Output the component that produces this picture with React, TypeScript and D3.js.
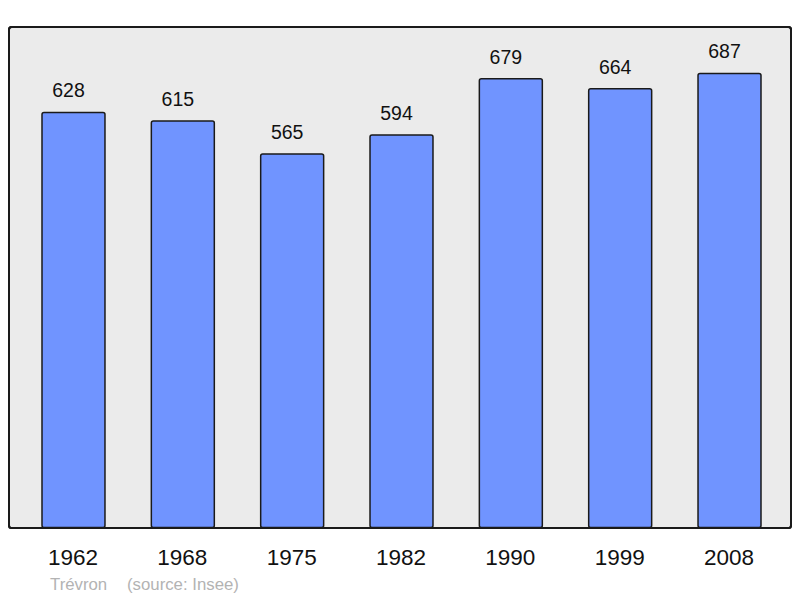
import React from "react";
import * as d3 from "d3";

const years = ["1962", "1968", "1975", "1982", "1990", "1999", "2008"];
const population = [628, 615, 565, 594, 679, 664, 687];
const townName = "Trévron";
const sourceText = "(source: Insee)";

const W = 800;
const H = 598;

export default function App() {
  const x = d3.scaleBand<string>().domain(years).range([9.2, 793.8]).paddingInner(0.424).paddingOuter(0.3);
  const y = d3.scaleLinear().domain([0, 758]).range([527.5, 26.5]);
  const font = "'Liberation Sans', Arial, sans-serif";
  return (
    <svg width={W} height={H} style={{ position: "absolute", left: 0, top: 0, display: "block" }}>
      <rect x={0} y={0} width={W} height={H} fill="#ffffff" />
      <rect x={9} y={27} width={782} height={501} rx={2.5} fill="#ebebeb" stroke="#1a1a1a" strokeWidth={2} />
      {years.map((yr, i) => {
        const bx = x(yr)!;
        const top = y(population[i]);
        return (
          <g key={yr}>
            <rect x={bx} y={top} width={x.bandwidth()} height={y(0) - top} rx={2} fill="#7094ff" stroke="#1a1a1a" strokeWidth={1.5} />
            <text x={bx + x.bandwidth() / 2 - 5} y={top - 15} textAnchor="middle" fontFamily={font} fontSize={19.5} fill="#111">
              {population[i]}
            </text>
            <text x={bx + x.bandwidth() / 2 - 0.5} y={565} textAnchor="middle" fontFamily={font} fontSize={22.5} fill="#111">
              {yr}
            </text>
          </g>
        );
      })}
      <rect x={9} y={27} width={782} height={501} rx={2.5} fill="none" stroke="#1a1a1a" strokeWidth={2} />
      <text x={50} y={590} fontFamily={font} fontSize={16.8} fill="#b3b3b3">{townName}</text>
      <text x={127} y={590} fontFamily={font} fontSize={16.8} fill="#b3b3b3">{sourceText}</text>
    </svg>
  );
}
